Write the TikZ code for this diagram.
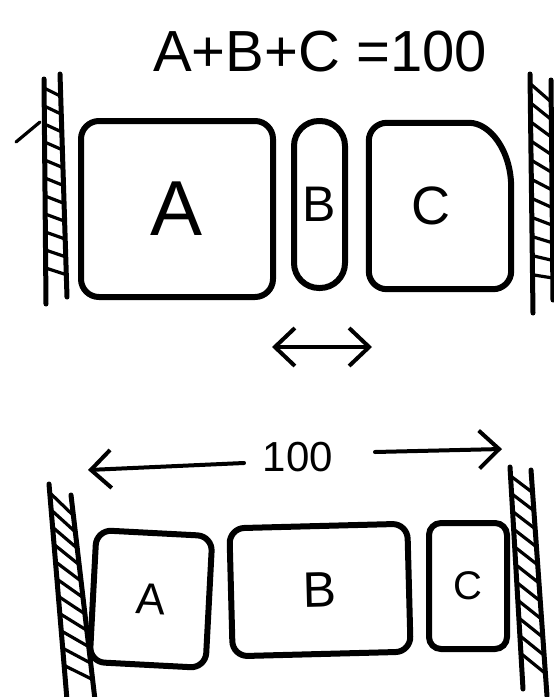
\documentclass[tikz,border=0pt]{standalone}
\usepackage{fontspec}
\setmainfont{Liberation Sans}
\usetikzlibrary{calc,arrows.meta}
\newcommand\myhatch[4]{%
  \foreach \t [evaluate=\t as \u using \t+0.06] in {0.04,0.12,...,0.92}
    \draw[hatch] ($(#1)!\t!(#2)$) -- ($(#3)!\u!(#4)$);}
\begin{document}
\begin{tikzpicture}[x=1pt,y=-1pt,
  box/.style={draw, line width=6pt, rounded corners=18pt, inner sep=0pt,
    font=\fontsize{54}{54}\selectfont},
  wall/.style={line width=5pt, line cap=round},
  hatch/.style={line width=3.2pt, line cap=round},
  sketcharrow/.style={line width=4pt, line cap=round, -{Straight Barb[length=20pt,width=38pt,line width=4pt]}},
  lbl/.style={inner sep=0pt}]
\fill[white] (0,0) rectangle (554,697);
\useasboundingbox (0,0) rectangle (554,697);

% title
\node[lbl, font=\fontsize{58}{58}\selectfont] (title) at (320,52) {A+B+C =100};

% ---------- top arrangement ----------
\node[box, minimum width=192pt, minimum height=176pt,
      font=\fontsize{78}{78}\selectfont] (a1) at (177,209) {A};
\node[box, rounded corners=25pt, minimum width=51pt, minimum height=167pt,
      font=\fontsize{50}{50}\selectfont] (b1) at (319.5,204.5) {B};
\node[lbl, minimum width=142pt, minimum height=166pt,
      font=\fontsize{54}{54}\selectfont] (c1) at (440,206) {\hspace*{-18pt}C};
\draw[line width=6pt, rounded corners=18pt]
  (c1.west) -- (c1.north west) -- ([xshift=-60pt]c1.north east)
  [rounded corners=0pt] to[out=0,in=90,looseness=1.1] ([yshift=-65pt]c1.north east)
  [rounded corners=18pt] -- (c1.south east) -- (c1.south west) -- cycle;

% top left wall
\coordinate (tl1a) at (44,79);  \coordinate (tl1b) at (46,304);
\coordinate (tl2a) at (60,74);  \coordinate (tl2b) at (67,297);
\draw[wall] (tl1a) -- (tl1b);
\draw[wall] (tl2a) -- (tl2b);
\myhatch{tl1a}{tl1b}{tl2a}{tl2b}
\coordinate (tk1) at (16,142); \coordinate (tk2) at (40,122);
\draw[hatch] (tk1) -- (tk2);

% top right wall
\coordinate (tr1a) at (530,74);  \coordinate (tr1b) at (533,313);
\coordinate (tr2a) at (551,80);  \coordinate (tr2b) at (553,300);
\draw[wall] (tr1a) -- (tr1b);
\draw[wall] (tr2a) -- (tr2b);
\myhatch{tr1a}{tr1b}{tr2a}{tr2b}

% double arrow
\coordinate (dl) at (272,347);
\coordinate (dr) at (372,347);
\draw[line width=4pt, line cap=round, {Straight Barb[length=20pt,width=38pt,line width=4pt]}-{Straight Barb[length=20pt,width=38pt,line width=4pt]}] (dl) -- (dr);

% ---------- bottom arrangement ----------
\node[lbl, font=\fontsize{42}{42}\selectfont] (hundred) at (298,457) {100};
\coordinate (gl) at (244,463); \coordinate (dimL) at (88,470);
\coordinate (gr) at (375,452); \coordinate (dimR) at (502,449);
\draw[sketcharrow] (gl) -- (dimL);
\draw[sketcharrow] (gr) -- (dimR);

\node[box, rounded corners=15pt, minimum width=116pt, minimum height=132pt, rotate=-3,
      font=\fontsize{44}{44}\selectfont] (a2) at (151,599) {A};
\node[box, rounded corners=15pt, minimum width=178pt, minimum height=128pt, rotate=1.5,
      font=\fontsize{50}{50}\selectfont] (b2) at (320,590) {B};
\node[box, rounded corners=12pt, minimum width=78pt, minimum height=126pt,
      font=\fontsize{40}{40}\selectfont] (c2) at (468,586) {C};

% bottom left wall
\coordinate (bl1a) at (49,484); \coordinate (bl1b) at (67,700);
\coordinate (bl2a) at (71,495); \coordinate (bl2b) at (95,700);
\draw[wall] (bl1a) -- (bl1b);
\draw[wall] (bl2a) -- (bl2b);
\myhatch{bl1a}{bl1b}{bl2a}{bl2b}

% bottom right wall
\coordinate (br1a) at (510,467); \coordinate (br1b) at (523,689);
\coordinate (br2a) at (531,470); \coordinate (br2b) at (547,696);
\draw[wall] (br1a) -- (br1b);
\draw[wall] (br2a) -- (br2b);
\myhatch{br1a}{br1b}{br2a}{br2b}
\end{tikzpicture}
\end{document}
